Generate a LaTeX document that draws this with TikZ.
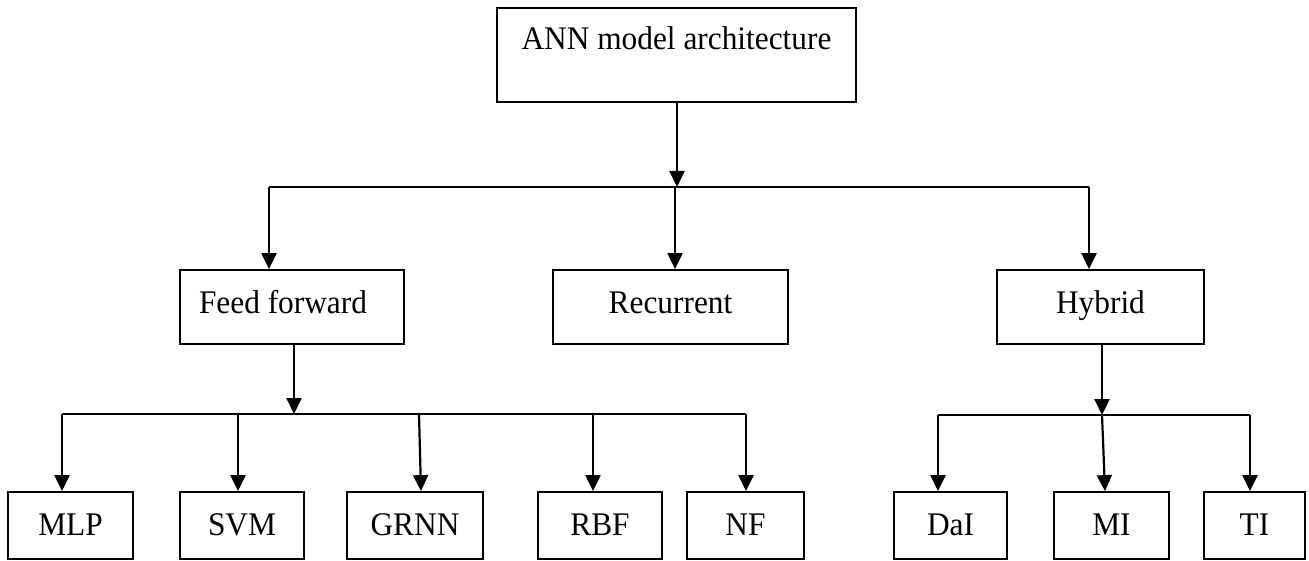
\documentclass[tikz,border=0pt]{standalone}
\usepackage{fontspec}
\setmainfont[FakeStretch=0.95]{Liberation Serif}
\usetikzlibrary{arrows.meta}
\begin{document}
\begin{tikzpicture}[x=1pt,y=-1pt,
  box/.style={draw=black,line width=1.8pt,inner sep=0pt,font=\fontsize{33}{38}\selectfont},
  topbox/.style={box,text height=42pt,text depth=52pt},
  midbox/.style={box,text height=43pt,text depth=31pt},
  leafbox/.style={box,text height=43pt,text depth=24pt},
  conn/.style={line width=2.2pt},
  arr/.style={conn,-{Triangle[width=15pt,length=16pt]}}]
\useasboundingbox (0,0) rectangle (1309,561);
% boxes
\node[topbox,minimum width=359pt] (ann) at (676.5,55) {ANN model architecture};
\node[midbox,minimum width=224pt] (ff) at (292,307) {\hspace*{-18pt}Feed forward};
\node[midbox,minimum width=235pt] (rec) at (670.5,307) {Recurrent};
\node[midbox,minimum width=207pt] (hyb) at (1100.5,307) {Hybrid};
\node[leafbox,minimum width=125pt] (mlp) at (70.5,525.5) {MLP};
\node[leafbox,minimum width=124pt] (svm) at (242,525.5) {SVM};
\node[leafbox,minimum width=136pt] (grnn) at (415,525.5) {GRNN};
\node[leafbox,minimum width=124pt] (rbf) at (600,525.5) {RBF};
\node[leafbox,minimum width=117pt] (nf) at (745.5,525.5) {NF};
\node[leafbox,minimum width=113pt] (dai) at (950.5,525.5) {DaI};
\node[leafbox,minimum width=115pt] (mi) at (1111.5,525.5) {MI};
\node[leafbox,minimum width=101pt] (ti) at (1254.5,525.5) {TI};
% level 1 bus
\coordinate (b0) at (677,187);
\coordinate (bL) at (269,187);
\coordinate (bM) at (675,187);
\coordinate (bR) at (1089,187);
\draw[arr] (ann.south -| b0) -- (b0);
\draw[conn] (bL) -- (bR);
\draw[arr] (bL) -- (bL |- ff.north);
\draw[arr] (bM) -- (bM |- rec.north);
\draw[arr] (bR) -- (bR |- hyb.north);
% feed forward bus
\coordinate (f0) at (294,414);
\coordinate (f1) at (62,414);
\coordinate (f2) at (238,414);
\coordinate (f3) at (419,414);
\coordinate (f4) at (593,414);
\coordinate (f5) at (746,414);
\draw[arr] (ff.south -| f0) -- (f0);
\draw[conn] (f1) -- (f5);
\draw[arr] (f1) -- (f1 |- mlp.north);
\draw[arr] (f2) -- (f2 |- svm.north);
\draw[arr] (f3) -- (421,0 |- grnn.north);
\draw[arr] (f4) -- (f4 |- rbf.north);
\draw[arr] (f5) -- (f5 |- nf.north);
% hybrid bus
\coordinate (h0) at (1102,415);
\coordinate (h1) at (938,415);
\coordinate (h2) at (1102,415);
\coordinate (h3) at (1250,415);
\draw[arr] (hyb.south -| h0) -- (h0);
\draw[conn] (h1) -- (h3);
\draw[arr] (h1) -- (h1 |- dai.north);
\draw[arr] (h2) -- (1105,0 |- mi.north);
\draw[arr] (h3) -- (h3 |- ti.north);
\end{tikzpicture}
\end{document}
